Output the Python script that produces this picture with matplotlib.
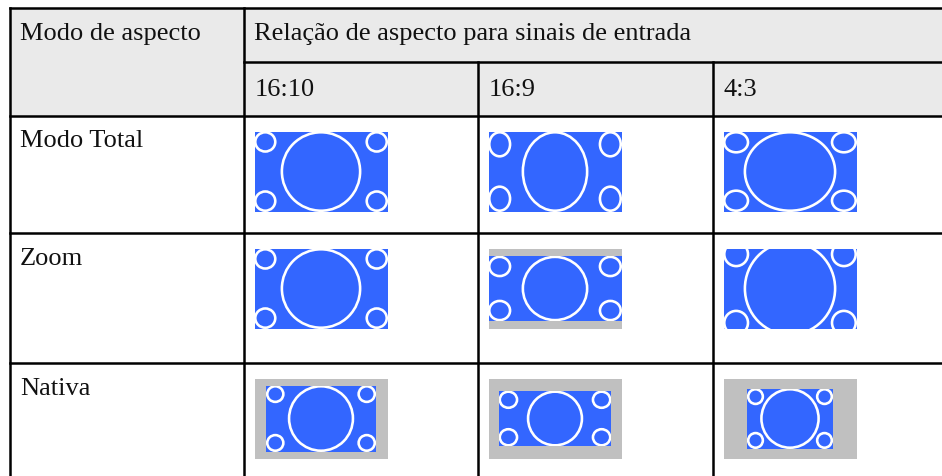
import matplotlib
matplotlib.use("Agg")
import matplotlib.pyplot as plt
from matplotlib.patches import Rectangle, Ellipse

# ---- table content ----
corner_header = "Modo de aspecto"
group_header = "Relação de aspecto para sinais de entrada"
input_ratios = ["16:10", "16:9", "4:3"]
aspect_modes = ["Modo Total", "Zoom", "Nativa"]

# picture content of each input signal (fractions of the picture):
# big ellipse width, small corner ellipse width / height
big_w_frac = [0.60, 0.495, 0.69]
small_w_frac = [0.162, 0.168, 0.19]
small_h_frac = [0.26, 0.32, 0.27]

# displayed picture size relative to the screen, per mode (rows) and ratio (cols)
pic_w_scale = [[1.00, 1.00, 1.00],
               [1.00, 1.00, 1.00],
               [0.82, 0.842, 0.64]]
pic_h_scale = [[1.00, 1.00, 1.00],
               [1.00, 0.81, 1.175],
               [0.825, 0.69, 0.75]]

# ---- layout (pixels) ----
W, H = 942, 476
col_x = [10, 244, 478, 713, 942]
row_y = [8, 62, 116, 233, 363, 476]
screen_w, screen_h = 133, 80

BLUE = "#3366FF"
GREY = "#C0C0C0"
HEAD = "#EAEAEA"
LW = 1.8

fig = plt.figure(figsize=(W / 100, H / 100), dpi=100)
ax = fig.add_axes([0, 0, 1, 1])
ax.set_xlim(0, W)
ax.set_ylim(H, 0)
ax.axis("off")

font = dict(family=["Liberation Serif", "DejaVu Serif"], fontsize=19, color="#111111")

# header background
ax.add_patch(Rectangle((col_x[0], row_y[0]), W - col_x[0], row_y[2] - row_y[0],
                       facecolor=HEAD, edgecolor="none", zorder=0))

# grid lines
def hline(y, x0, x1):
    ax.plot([x0, x1], [y, y], color="black", lw=LW, solid_capstyle="projecting", zorder=5)

def vline(x, y0, y1):
    ax.plot([x, x], [y0, y1], color="black", lw=LW, solid_capstyle="projecting", zorder=5)

hline(row_y[0], col_x[0], W + 5)
hline(row_y[1], col_x[1], W + 5)
for y in row_y[2:5]:
    hline(y, col_x[0], W + 5)
vline(col_x[0], row_y[0], H + 5)
vline(col_x[1], row_y[0], H + 5)
vline(col_x[2], row_y[1], H + 5)
vline(col_x[3], row_y[1], H + 5)

# texts
ax.text(col_x[0] + 10, 40, corner_header, va="baseline", ha="left", **font)
ax.text(col_x[1] + 10, 40, group_header, va="baseline", ha="left", **font)
for j, lab in enumerate(input_ratios):
    ax.text(col_x[j + 1] + 10.5, 96, lab, va="baseline", ha="left", **font)
mode_baselines = [147, 265, 395]
for i, lab in enumerate(aspect_modes):
    ax.text(col_x[0] + 10, mode_baselines[i], lab, va="baseline", ha="left", **font)

# icons
stroke_px = 2.6
for i in range(len(aspect_modes)):
    for j in range(len(input_ratios)):
        sx = col_x[j + 1] + 10.5
        sy = row_y[i + 2] + 15.5
        scx, scy = sx + screen_w / 2, sy + screen_h / 2
        pw = screen_w * pic_w_scale[i][j]
        ph = screen_h * pic_h_scale[i][j]
        px, py = scx - pw / 2, scy - ph / 2
        # screen
        ax.add_patch(Rectangle((sx, sy), screen_w, screen_h, facecolor=GREY,
                               edgecolor="none", zorder=1))
        # clip = screen ∩ picture
        cx0, cy0 = max(sx, px), max(sy, py)
        cx1, cy1 = min(sx + screen_w, px + pw), min(sy + screen_h, py + ph)
        clip = Rectangle((cx0, cy0), cx1 - cx0, cy1 - cy0, transform=ax.transData,
                         facecolor="none", edgecolor="none")
        ax.add_patch(clip)
        pic = Rectangle((px, py), pw, ph, facecolor=BLUE, edgecolor="none", zorder=2)
        ax.add_patch(pic)
        pic.set_clip_path(clip)
        shapes = []
        bw = big_w_frac[j] * pw
        inset = stroke_px * 0.6
        shapes.append(Ellipse((scx, scy), bw - inset, ph - inset))
        sw = small_w_frac[j] * pw
        sh = small_h_frac[j] * ph
        for ex in (px + sw / 2, px + pw - sw / 2):
            for ey in (py + sh / 2, py + ph - sh / 2):
                shapes.append(Ellipse((ex, ey), sw - inset, sh - inset))
        for e in shapes:
            e.set_facecolor("none")
            e.set_edgecolor("white")
            e.set_linewidth(stroke_px * 72 / 100)
            e.set_zorder(3)
            ax.add_patch(e)
            e.set_clip_path(clip)

fig.savefig("out.png", dpi=100, facecolor="white")
